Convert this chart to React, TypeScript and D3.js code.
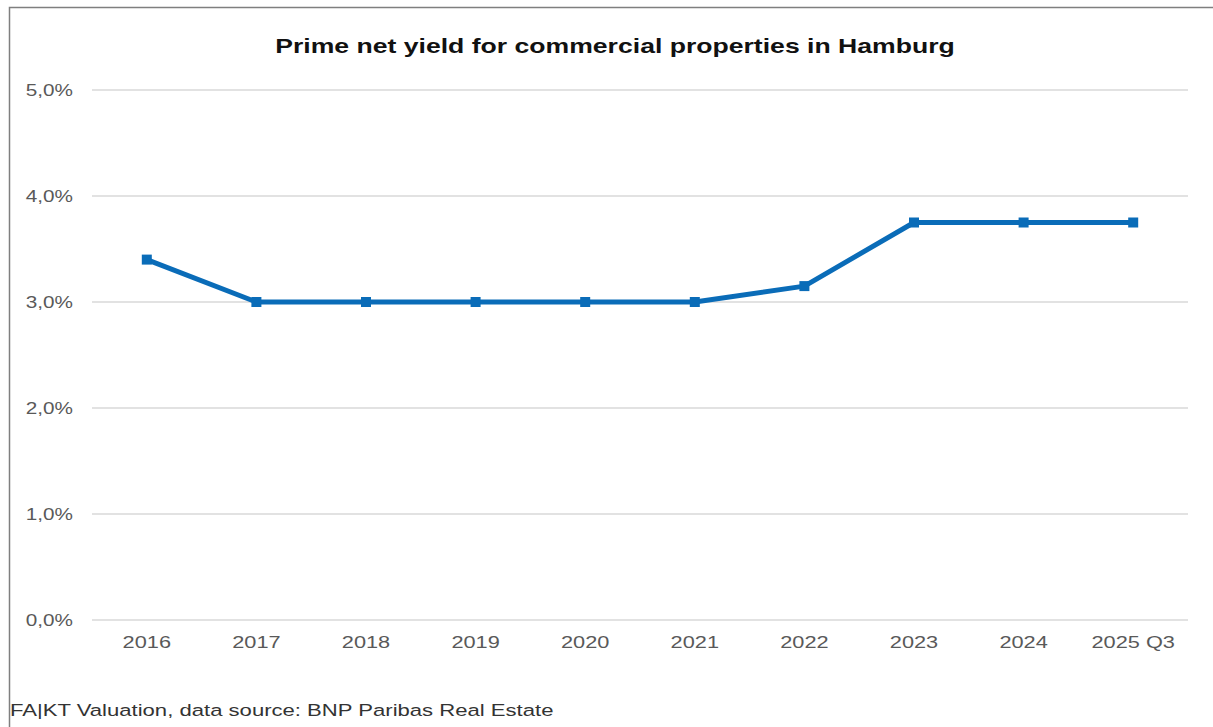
import React, { useRef, useEffect } from "react";
import * as d3 from "d3";

const categories = ["2016", "2017", "2018", "2019", "2020", "2021", "2022", "2023", "2024", "2025 Q3"];
const yieldValues = [3.4, 3.0, 3.0, 3.0, 3.0, 3.0, 3.15, 3.75, 3.75, 3.75];
const yTicks = [0, 1, 2, 3, 4, 5];

const W = 1213;
const H = 727;

const App: React.FC = () => {
  const ref = useRef<SVGSVGElement | null>(null);

  useEffect(() => {
    const svg = d3.select(ref.current);
    svg.selectAll("*").remove();

    const font = "Arial, 'Liberation Sans', sans-serif";

    // frame
    svg
      .append("rect")
      .attr("x", 9.5)
      .attr("y", 7.5)
      .attr("width", W + 10)
      .attr("height", H + 10)
      .attr("fill", "white")
      .attr("stroke", "#7f7f7f")
      .attr("stroke-width", 1.5);

    const x = d3.scaleBand<string>().domain(categories).range([92, 1188]);
    const y = d3.scaleLinear().domain([0, 5]).range([620, 90]);

    // grid lines
    svg
      .append("g")
      .selectAll("line")
      .data(yTicks)
      .join("line")
      .attr("x1", 92)
      .attr("x2", 1188)
      .attr("y1", (d) => y(d))
      .attr("y2", (d) => y(d))
      .attr("stroke", "#d9d9d9")
      .attr("stroke-width", 1.5);

    // y labels (text in the source is a bit wide, so stretch it)
    svg
      .append("g")
      .selectAll("text")
      .data(yTicks)
      .join("text")
      .attr("transform", (d) => `translate(73,${y(d) + 6}) scale(1.22,1)`)
      .attr("text-anchor", "end")
      .attr("font-family", font)
      .attr("font-size", 17)
      .attr("fill", "#595959")
      .text((d) => d3.format(".1f")(d).replace(".", ",") + "%");

    // x labels
    svg
      .append("g")
      .selectAll("text")
      .data(categories)
      .join("text")
      .attr("transform", (d) => `translate(${(x(d) as number) + x.bandwidth() / 2},648) scale(1.28,1)`)
      .attr("text-anchor", "middle")
      .attr("font-family", font)
      .attr("font-size", 17)
      .attr("fill", "#595959")
      .text((d) => d);

    const pts = categories.map((c, i) => [
      (x(c) as number) + x.bandwidth() / 2,
      y(yieldValues[i]),
    ] as [number, number]);

    const line = d3.line();

    svg
      .append("path")
      .attr("d", line(pts))
      .attr("fill", "none")
      .attr("stroke", "#0a6cb8")
      .attr("stroke-width", 5)
      .attr("stroke-linejoin", "round");

    svg
      .append("g")
      .selectAll("rect")
      .data(pts)
      .join("rect")
      .attr("x", (d) => d[0] - 5)
      .attr("y", (d) => d[1] - 5)
      .attr("width", 10)
      .attr("height", 10)
      .attr("fill", "#0a6cb8");

    // title
    svg
      .append("text")
      .attr("transform", "translate(615,53) scale(1.33,1)")
      .attr("text-anchor", "middle")
      .attr("font-family", font)
      .attr("font-size", 20)
      .attr("font-weight", "bold")
      .attr("fill", "#111")
      .text("Prime net yield for commercial properties in Hamburg");

    // footer
    svg
      .append("text")
      .attr("transform", "translate(10,716) scale(1.3,1)")
      .attr("font-family", font)
      .attr("font-size", 17)
      .attr("fill", "#333")
      .text("FA|KT Valuation, data source: BNP Paribas Real Estate");
  }, []);

  return (
    <svg
      ref={ref}
      width={W}
      height={H}
      style={{ position: "absolute", left: 0, top: 0, background: "white" }}
    ></svg>
  );
};

export default App;
